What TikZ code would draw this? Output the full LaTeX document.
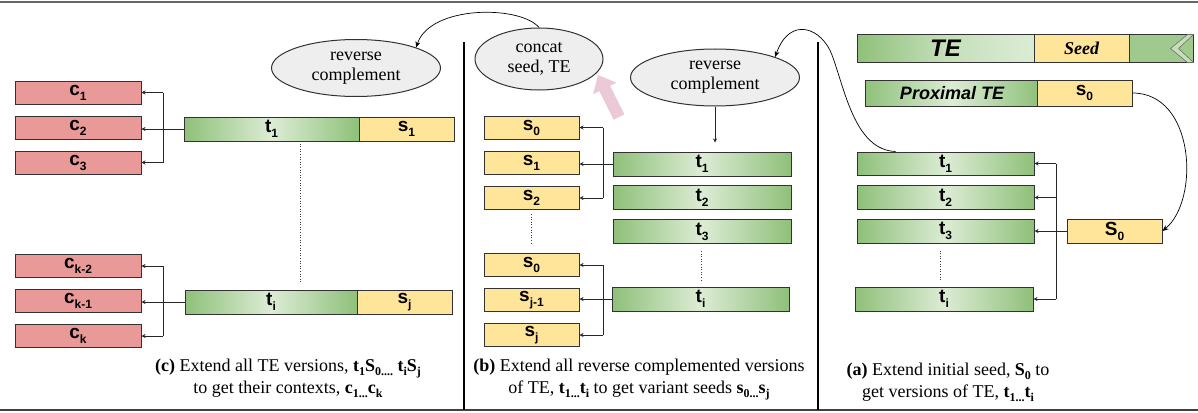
\documentclass[tikz,border=0pt]{standalone}
\usepackage{fontspec}
\setmainfont{Liberation Serif}
\setsansfont{Liberation Sans}
\usepackage{xcolor}
\usepackage{tikz}
\usetikzlibrary{shapes.geometric,arrows.meta,calc}

\definecolor{ctxred}{RGB}{234,153,153}
\definecolor{seedyel}{RGB}{255,229,153}
\definecolor{gdark}{RGB}{143,192,122}
\definecolor{glight}{RGB}{220,236,213}
\definecolor{gtail}{RGB}{160,201,142}
\definecolor{gchev}{RGB}{196,224,182}
\definecolor{ovalgray}{RGB}{238,238,238}
\definecolor{edge}{RGB}{50,50,50}
\definecolor{pinkarr}{RGB}{235,201,215}

% bold label with a lowered subscript
\newcommand{\blab}[2]{\textbf{#1}\raisebox{-5pt}{\fontsize{12}{12}\selectfont\textbf{#2}}}
\newcommand{\capsub}[1]{\raisebox{-4pt}{\fontsize{12}{12}\selectfont\textbf{#1}}}

\begin{document}
\begin{tikzpicture}[x=1pt, y=-1pt,
    ctxbox/.style={
        rectangle, draw=edge, line width=1pt, fill=ctxred,
        minimum width=126pt, minimum height=23pt, inner sep=0pt,
        font=\fontsize{19}{19}\selectfont\sffamily
    },
    seedbox/.style={
        rectangle, draw=edge, line width=1pt, fill=seedyel,
        minimum width=95pt, minimum height=24pt, inner sep=0pt,
        font=\fontsize{19}{19}\selectfont\sffamily
    },
    tebox/.style={
        rectangle, draw=edge, line width=1pt,
        left color=gdark, right color=gdark, middle color=glight,
        minimum width=177pt, minimum height=24pt, inner sep=0pt,
        font=\fontsize{19}{19}\selectfont\sffamily
    },
    oval/.style={
        ellipse, draw=edge, line width=1pt, fill=ovalgray,
        inner sep=0pt, align=center,
        font=\fontsize{18}{20}\selectfont
    },
    arrow/.style={-{Stealth[length=4pt,width=4pt]}, line width=0.8pt, black!85},
    link/.style={line width=0.8pt, black!85},
    curvearrow/.style={-{Stealth[length=6pt,width=5pt]}, line width=0.7pt, black},
    dots/.style={dotted, line width=0.6pt, black!75},
    fatarrow/.style={-{Triangle[length=15pt,width=25pt]}, line width=12pt, pinkarr},
    captext/.style={align=center, font=\fontsize{18}{22}\selectfont}
]
\useasboundingbox (0,0) rectangle (1198,412);

% Frame lines
\draw[line width=2pt, black!60] (0,2) -- (1198,2);
\draw[line width=2pt, black!75] (0,410) -- (1198,410);
\draw[line width=1.2pt] (464,42) -- (464,410);
\draw[line width=1.2pt] (818,42) -- (818,410);

% Panel (c): contexts
\node[ctxbox] (ctx1) at (78,92.5) {\blab{c}{1}};
\node[ctxbox] (ctx2) at (78,127.5) {\blab{c}{2}};
\node[ctxbox] (ctx3) at (78,162.5) {\blab{c}{3}};
\node[ctxbox] (ctxk2) at (78,266) {\blab{c}{k-2}};
\node[ctxbox] (ctxk1) at (78,300.5) {\blab{c}{k-1}};
\node[ctxbox] (ctxk) at (78,336) {\blab{c}{k}};

\node[tebox, minimum width=175pt] (tc1) at (271.5,129) {\blab{t}{1}};
\node[seedbox] (sc1) at (406.5,129) {\blab{s}{1}};
\node[tebox, minimum width=172pt] (tci) at (271,302) {\blab{t}{i}};
\node[seedbox] (scj) at (404.5,302) {\blab{s}{j}};

\node[oval, minimum width=169pt, minimum height=57pt] (rcc) at (356,68) {reverse\\complement};

\coordinate (jc) at (163,0);
\draw[link] (jc |- ctx1.east) -- (jc |- ctx3.east);
\draw[link] (jc |- ctxk2.east) -- (jc |- ctxk.east);
\draw[arrow] (tc1.west) -- (tc1.west -| ctx2.east);
\draw[arrow] (jc |- ctx1.east) -- (ctx1.east);
\draw[arrow] (jc |- ctx3.east) -- (ctx3.east);
\draw[arrow] (tci.west) -- (tci.west -| ctxk1.east);
\draw[arrow] (jc |- ctxk2.east) -- (ctxk2.east);
\draw[arrow] (jc |- ctxk.east) -- (ctxk.east);
\draw[dots] ([xshift=28.5pt,yshift=-2pt]tc1.south) -- ([xshift=29pt,yshift=7pt]tci.north);

\node[captext] (capc) at (288,378) {\textbf{(c)} Extend all TE versions, \textbf{t}\capsub{1}\textbf{S}\capsub{0....} \textbf{t}\capsub{i}\textbf{S}\capsub{j}\\
    to get their contexts, \textbf{c}\capsub{1...}\textbf{c}\capsub{k}};

% Panel (b): variant seeds
\node[oval, minimum width=128pt, minimum height=62pt] (concat) at (539,59) {concat\\seed, TE};
\node[oval, minimum width=169pt, minimum height=57pt] (rcb) at (715,77.5) {reverse\\complement};

\node[seedbox, minimum height=23pt] (sb0) at (531.5,127.5) {\blab{s}{0}};
\node[seedbox, minimum height=23pt] (sb1) at (531.5,162.5) {\blab{s}{1}};
\node[seedbox, minimum height=23pt] (sb2) at (531.5,198) {\blab{s}{2}};
\node[seedbox, minimum height=23pt] (sbz) at (531.5,265) {\blab{s}{0}};
\node[seedbox, minimum height=23pt] (sbj1) at (531.5,300) {\blab{s}{j-1}};
\node[seedbox, minimum height=23pt] (sbj) at (531.5,335) {\blab{s}{j}};

\node[tebox, minimum width=178pt] (tb1) at (702,164) {\blab{t}{1}};
\node[tebox, minimum width=178pt] (tb2) at (702,197.5) {\blab{t}{2}};
\node[tebox, minimum width=178pt] (tb3) at (702,231.5) {\blab{t}{3}};
\node[tebox, minimum width=177pt] (tbi) at (700.5,299) {\blab{t}{i}};

\coordinate (jb) at (603,0);
\draw[link] (jb |- sb0.east) -- (jb |- sb2.east);
\draw[link] (jb |- sbz.east) -- (jb |- sbj.east);
\draw[arrow] (tb1.west) -- (tb1.west -| sb1.east);
\draw[arrow] (jb |- sb0.east) -- (sb0.east);
\draw[arrow] (jb |- sb2.east) -- (sb2.east);
\draw[arrow] (tbi.west) -- (tbi.west -| sbj1.east);
\draw[arrow] (jb |- sbz.east) -- (sbz.east);
\draw[arrow] (jb |- sbj.east) -- (sbj.east);
\draw[dots] ([yshift=-4pt]sb2.south) -- ([yshift=8pt]sbz.north);
\draw[dots] ([xshift=-1pt,yshift=-7pt]tb3.south) -- ([xshift=0.5pt,yshift=5pt]tbi.north);
\draw[arrow] (rcb.south) -- ([yshift=9pt]rcb.south |- tb1.north);

% pink hint arrow toward concat
\coordinate (pkbase) at (619,117);
\coordinate (pktip) at (598,75);
\draw[fatarrow] (pkbase) -- (pktip);

\node[captext] (capb) at (639,380) {\textbf{(b)} Extend all reverse complemented versions\\
    of TE, \textbf{t}\capsub{1...}\textbf{t}\capsub{i} to get variant seeds \textbf{s}\capsub{0...}\textbf{s}\capsub{j}};

% Panel (a): initial seed
\node[tebox, right color=glight, middle color=glight!70!gdark, minimum height=27pt,
    font=\fontsize{24}{24}\selectfont\sffamily\bfseries\itshape] (te) at (945.5,48.5) {TE};
\node[seedbox, minimum height=27pt, font=\fontsize{18}{18}\selectfont\bfseries\itshape] (seed) at (1081.5,48.5) {Seed};
\node[rectangle, draw=edge, line width=1pt, fill=gtail, minimum width=64pt, minimum height=27pt,
    inner sep=0pt] (tail) at (1161,48.5) {};
\fill[gchev, draw=edge!70, line width=0.6pt] ([xshift=-6pt]tail.north east) -- ([xshift=-23pt]tail.east)
    -- ([xshift=-6pt]tail.south east) -- (tail.south east) -- ([xshift=-15pt]tail.east) -- (tail.north east) -- cycle;

\node[tebox, minimum width=174pt, minimum height=26pt,
    font=\fontsize{18}{18}\selectfont\sffamily\bfseries\itshape] (prox) at (952,93) {Proximal TE};
\node[seedbox, minimum height=26pt] (sp0) at (1084.5,93) {\blab{s}{0}};

\node[tebox, minimum height=23pt] (ta1) at (945.5,163.5) {\blab{t}{1}};
\node[tebox] (ta2) at (945.5,197.5) {\blab{t}{2}};
\node[tebox] (ta3) at (945.5,231) {\blab{t}{3}};
\node[tebox, minimum width=178pt] (tai) at (944,299) {\blab{t}{i}};
\node[seedbox] (sa0) at (1114.5,231) {\blab{S}{0}};

\coordinate (ja) at (1056,0);
\draw[link] (ja |- ta1.east) -- (ja |- tai.east);
\draw[arrow] (ja |- ta1.east) -- (ta1.east);
\draw[arrow] (ja |- ta2.east) -- (ta2.east);
\draw[arrow] (sa0.west) -- (ta3.east);
\draw[arrow] (ja |- tai.east) -- (tai.east);
\draw[dots] ([xshift=-5.5pt,yshift=-7pt]ta3.south) -- ([xshift=-4pt,yshift=5pt]tai.north);

\node[captext] (capa) at (948,382) {\textbf{(a)} Extend initial seed, \textbf{S}\capsub{0} to\\
    get versions of TE, \textbf{t}\capsub{1...}\textbf{t}\capsub{i}};

% Curved hand-offs between panels
\draw[curvearrow] (sp0.east) .. controls (1195,93) and (1200,200) .. (sa0.east);
\draw[curvearrow] ([xshift=-50pt]ta1.north) .. controls (855,150) and (845,90) .. (832,55)
    .. controls (822,28) and (790,15) .. (rcb.north east);
\draw[curvearrow] (concat.north) .. controls (520,5) and (430,5) .. (rcc.north east);
\end{tikzpicture}
\end{document}
